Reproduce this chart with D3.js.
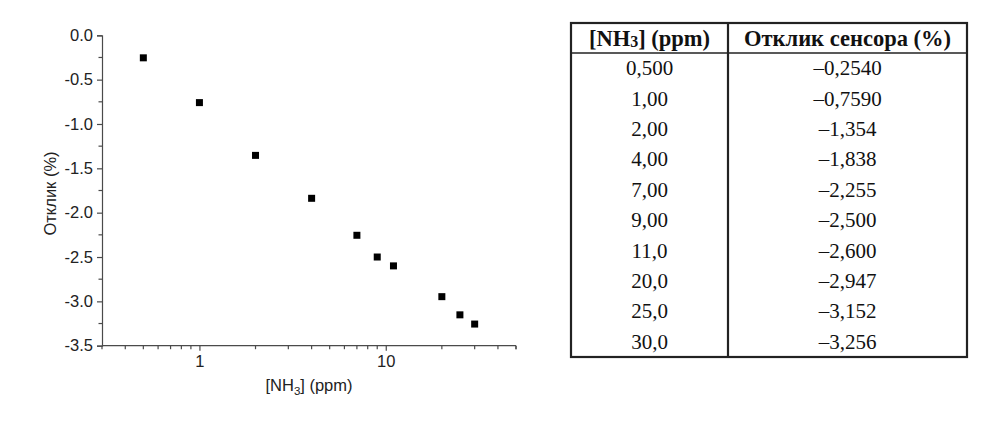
<!DOCTYPE html>
<html>
<head>
<meta charset="utf-8">
<script src="https://cdn.jsdelivr.net/npm/d3@7"></script>
<style>
  html, body { margin: 0; padding: 0; background: #fff; }
  svg { display: block; }
</style>
</head>
<body>
<svg id="chart" width="1000" height="439"></svg>
<script>
// ---- data ----
const concentration = [0.5, 1, 2, 4, 7, 9, 11, 20, 25, 30];          // [NH3], ppm
const response = [-0.254, -0.759, -1.354, -1.838, -2.255, -2.5, -2.6, -2.947, -3.152, -3.256]; // %
const yTicks = [0, -0.5, -1.0, -1.5, -2.0, -2.5, -3.0, -3.5];
const xMajorTicks = [1, 10];
const tableHeaders = ["[NH3] (ppm)", "Отклик сенсора (%)"];
const yLabel = "Отклик (%)";

// ---- layout ----
const svg = d3.select("#chart");
const axisColor = "#4a4a4a";
const textColor = "#222";
const chartFont = "Liberation Sans, Arial, sans-serif";
const chartFs = 16.5;

const x = d3.scaleLog().domain([0.3, 50]).range([102, 516]);
const y = d3.scaleLinear().domain([0, -3.5]).range([35.3, 345.7]);

const hyphenFmt = d3.formatLocale({decimal: ".", thousands: ",", grouping: [3], currency: ["", ""], minus: "-"}).format(".1f");

// x minor ticks
const xMinor = [];
[0.1, 1, 10].forEach(d => { for (let k = 1; k <= 9; k++) { const v = d * k; if (v >= 0.3 && v <= 50 && !xMajorTicks.includes(v)) xMinor.push(v); } });
xMinor.push(50);

const g = svg.append("g").style("font-family", chartFont);

// X axis
const xAxis = g.append("g").attr("transform", `translate(0,${y(-3.5)})`)
  .call(d3.axisBottom(x).tickValues(xMajorTicks).tickFormat(d3.format("d")).tickSizeOuter(0).tickSize(5).tickPadding(5));
xAxis.append("g").selectAll("line").data(xMinor).join("line")
  .attr("x1", d => x(d)).attr("x2", d => x(d)).attr("y1", 0).attr("y2", 3.5);
xAxis.select(".domain").attr("d", `M${x(0.3)},0H${x(50)}`);

// Y axis
const yMinor = d3.range(0, 14).map(i => -0.25 - 0.5 * i).filter(v => v > -3.5);
const yAxis = g.append("g").attr("transform", `translate(${x(0.3)},0)`)
  .call(d3.axisLeft(y).tickValues(yTicks).tickFormat(hyphenFmt).tickSizeOuter(0).tickSize(5).tickPadding(4));
yAxis.append("g").selectAll("line").data(yMinor).join("line")
  .attr("x1", 0).attr("x2", -3.5).attr("y1", d => y(d)).attr("y2", d => y(d));

[xAxis, yAxis].forEach(a => {
  a.attr("font-size", null).attr("font-family", null);
  a.selectAll("path, line").attr("stroke", axisColor).attr("stroke-width", 1.2);
  a.selectAll("text").attr("fill", textColor).style("font-size", chartFs + "px").style("font-family", chartFont);
});

// axis labels
const xl = g.append("text").attr("x", 309).attr("y", 391).attr("text-anchor", "middle")
  .style("font-size", chartFs + "px").attr("fill", textColor);
xl.append("tspan").text("[NH");
xl.append("tspan").text("3").style("font-size", "11.5px").attr("dy", 4);
xl.append("tspan").text("] (ppm)").attr("dy", -4);

g.append("text").attr("transform", `translate(56,${(y(0) + y(-3.5)) / 2 + 3}) rotate(-90)`)
  .attr("text-anchor", "middle").style("font-size", chartFs + "px").attr("fill", textColor).text(yLabel);

// points
const ms = 7;
g.append("g").selectAll("rect").data(concentration).join("rect")
  .attr("x", (d) => x(d) - ms / 2)
  .attr("y", (d, i) => y(response[i]) - ms / 2)
  .attr("width", ms).attr("height", ms).attr("fill", "#000");

// ---- table ----
const loc = d3.formatLocale({decimal: ",", thousands: " ", grouping: [3], currency: ["", ""], minus: "–"});
const fc = loc.format(".3r"), fr = loc.format(".4r");

const tL = 571, tR = 967, tMid = 728, tTop = 23, hdrBot = 53;
const rowH = 30.4;
const tBot = hdrBot + rowH * concentration.length;
const t = svg.append("g").style("font-family", "Liberation Serif, Times New Roman, serif").attr("fill", "#111");
const bc = "#222";
t.append("rect").attr("x", tL).attr("y", tTop).attr("width", tR - tL).attr("height", tBot - tTop)
  .attr("fill", "none").attr("stroke", bc).attr("stroke-width", 2.2);
t.append("line").attr("x1", tMid).attr("x2", tMid).attr("y1", tTop).attr("y2", tBot).attr("stroke", bc).attr("stroke-width", 2.2);
t.append("line").attr("x1", tL).attr("x2", tR).attr("y1", hdrBot).attr("y2", hdrBot).attr("stroke", bc).attr("stroke-width", 1.6);

const c1 = (tL + tMid) / 2, c2 = (tMid + tR) / 2;
const hdrFs = 22.5, bodyFs = 21;
const h1 = t.append("text").attr("x", c1).attr("y", 46).attr("text-anchor", "middle").style("font-size", hdrFs + "px").attr("font-weight", "bold");
h1.append("tspan").text("[NH");
h1.append("tspan").text("3").style("font-size", "16px").attr("dy", 1);
h1.append("tspan").text("] (ppm)").attr("dy", -1);
t.append("text").attr("x", c2).attr("y", 46).attr("text-anchor", "middle").style("font-size", hdrFs + "px").attr("font-weight", "bold").text(tableHeaders[1]);

t.append("g").selectAll("text").data(concentration).join("text")
  .attr("x", c1).attr("y", (d, i) => hdrBot + rowH * (i + 0.5) + 7)
  .attr("text-anchor", "middle").style("font-size", bodyFs + "px").text(d => fc(d));
t.append("g").selectAll("text").data(response).join("text")
  .attr("x", c2).attr("y", (d, i) => hdrBot + rowH * (i + 0.5) + 7)
  .attr("text-anchor", "middle").style("font-size", bodyFs + "px").text(d => fr(d));
</script>
</body>
</html>
